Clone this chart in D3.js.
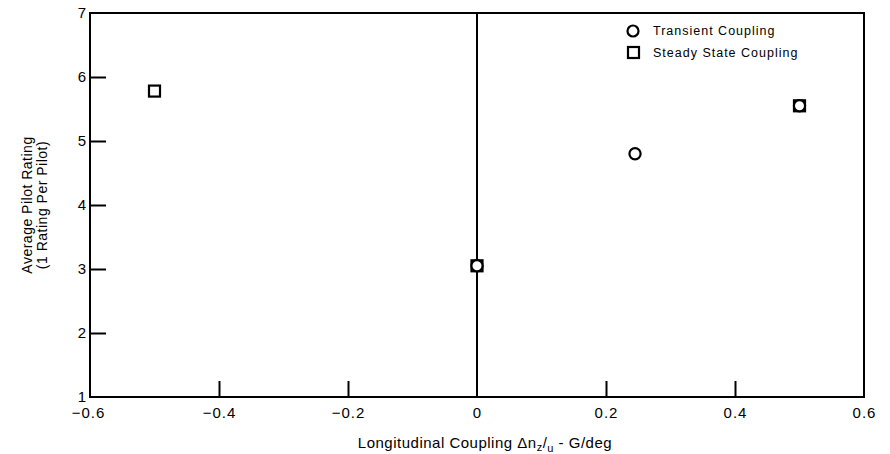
<!DOCTYPE html>
<html><head><meta charset="utf-8">
<script src="https://cdn.jsdelivr.net/npm/d3@7"></script>
<style>
body{margin:0;background:#fff;}
svg text{font-family:"Liberation Sans",Arial,Helvetica,sans-serif;fill:#000;}
</style></head>
<body><svg id="c" width="890" height="454"></svg>
<script>
const xTicks = [-0.6,-0.4,-0.2,0,0.2,0.4,0.6];
const yTicks = [1,2,3,4,5,6,7];
const transientX = [0, 0.245, 0.5];
const transientY = [3.05, 4.8, 5.55];
const steadyX = [-0.5, 0, 0.5];
const steadyY = [5.78, 3.05, 5.55];
const legendLabels = ["Transient Coupling","Steady State Coupling"];

const svg = d3.select("#c");
const L=90, R=864, T=13, B=397;
const x = d3.scaleLinear().domain([-0.6,0.6]).range([L,R]);
const y = d3.scaleLinear().domain([1,7]).range([B,T]);

// frame
svg.append("rect").attr("x",L).attr("y",T).attr("width",R-L).attr("height",B-T)
  .attr("fill","none").attr("stroke","#000").attr("stroke-width",2);

// x axis
const xa = svg.append("g").attr("transform",`translate(0,${B})`)
  .call(d3.axisBottom(x).tickValues(xTicks).tickSize(-16).tickPadding(10).tickFormat(d3.format(".1f")));
xa.selectAll("text").text(d=> d===0 ? "0" : d3.format(".1f")(d).replace("-","−"))
  .attr("font-size",15).attr("letter-spacing","1px").attr("dy","0.71em");
xa.select(".domain").remove();
xa.selectAll(".tick line").attr("stroke","#000").attr("stroke-width",2);
xa.selectAll(".tick").filter(d=>d===-0.6||d===0.6||d===0).select("line").remove();
xa.selectAll(".tick").filter(d=>d===-0.6).select("text").attr("x",-2);

// y axis
const ya = svg.append("g").attr("transform",`translate(${L},0)`)
  .call(d3.axisLeft(y).tickValues(yTicks).tickSize(-16).tickFormat(d3.format("d")));
ya.select(".domain").remove();
ya.selectAll(".tick line").attr("stroke","#000").attr("stroke-width",2);
ya.selectAll(".tick").filter(d=>d===1||d===7).select("line").remove();
ya.selectAll(".tick text").attr("font-size",15).attr("text-anchor","end").attr("x",-4);

// zero line
svg.append("line").attr("x1",x(0)).attr("x2",x(0)).attr("y1",T).attr("y2",B)
  .attr("stroke","#000").attr("stroke-width",2);

// markers
const tData = transientX.map((v,i)=>({x:v,y:transientY[i]}));
const sData = steadyX.map((v,i)=>({x:v,y:steadyY[i]}));
svg.selectAll(".sq").data(sData).enter().append("rect")
  .attr("x",d=>x(d.x)-5.5).attr("y",d=>y(d.y)-5.5).attr("width",11).attr("height",11)
  .attr("fill","#fff").attr("stroke","#000").attr("stroke-width",2.2);
svg.selectAll(".ci").data(tData).enter().append("circle")
  .attr("cx",d=>x(d.x)).attr("cy",d=>y(d.y)).attr("r",5.6)
  .attr("fill","#fff").attr("stroke","#000").attr("stroke-width",2.2);

// legend
const lg = svg.append("g");
lg.append("circle").attr("cx",633).attr("cy",31).attr("r",5.5)
  .attr("fill","#fff").attr("stroke","#000").attr("stroke-width",2.2);
lg.append("rect").attr("x",628).attr("y",47).attr("width",11).attr("height",11)
  .attr("fill","#fff").attr("stroke","#000").attr("stroke-width",2.2);
lg.selectAll("text").data(legendLabels).enter().append("text")
  .attr("x",653).attr("y",(d,i)=>35+i*22).attr("font-size",12.5)
  .attr("letter-spacing","1px").text(d=>d);

// y title
const yt = svg.append("text").attr("transform","translate(0,205) rotate(-90)")
  .attr("text-anchor","middle").attr("font-size",14).attr("letter-spacing","0.5px");
yt.append("tspan").attr("x",0).attr("y",32).text("Average Pilot Rating");
yt.append("tspan").attr("x",0).attr("y",47).text("(1 Rating Per Pilot)");

// x title
const xt = svg.append("text").attr("x",485).attr("y",448).attr("text-anchor","middle")
  .attr("font-size",15).attr("letter-spacing","0.5px");
xt.append("tspan").text("Longitudinal Coupling Δn");
xt.append("tspan").attr("font-size",11).attr("dy",3).text("z");
xt.append("tspan").attr("dy",-3).text("/");
xt.append("tspan").attr("font-size",11).attr("dy",4).text("u");
xt.append("tspan").attr("dy",-4).text(" - G/deg");
</script></body></html>
